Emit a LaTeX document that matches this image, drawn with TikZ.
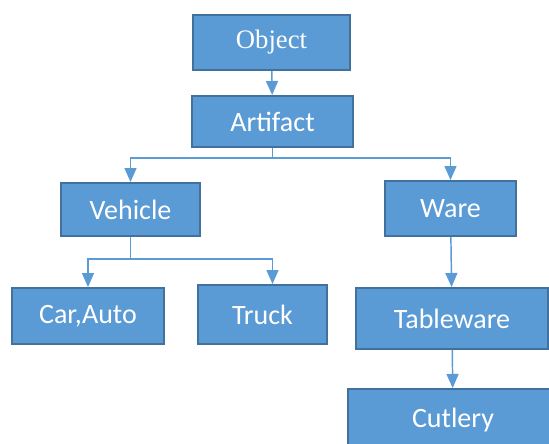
\documentclass[tikz,border=0pt]{standalone}
\usepackage{fontspec}
\setmainfont{Carlito}
\newfontfamily\objfont{Liberation Serif}
\usetikzlibrary{arrows.meta}
\definecolor{boxfill}{RGB}{91,155,213}
\definecolor{boxline}{RGB}{65,113,156}

\begin{document}
\begin{tikzpicture}[x=0.75pt,y=0.75pt,yscale=-1,xscale=1,
    box/.style={draw=boxline,fill=boxfill,line width=1.5pt,text=white,inner sep=0pt,
      font=\fontsize{21}{24}\selectfont},
    link/.style={draw=boxfill,line width=1.1pt,-{Triangle[length=10.5pt,width=9pt]}}]
    \useasboundingbox (0,0) rectangle (549,443);

    % Boxes
    \node [box,minimum width=117.75pt,minimum height=41.25pt,font=\objfont\fontsize{20}{24}\selectfont] (object) at (271.5,42.5) {Object};
    \node [box,minimum width=120.75pt,minimum height=38.25pt] (artifact) at (272.5,121.5) {Artifact};
    \node [box,minimum width=104.25pt,minimum height=39.75pt] (vehicle) at (130.5,209.5) {Vehicle};
    \node [box,minimum width=98.25pt,minimum height=41.25pt] (ware) at (450.5,208.5) {Ware};
    \node [box,minimum width=114pt,minimum height=42pt] (carauto) at (88,316) {Car,Auto};
    \node [box,minimum width=96.75pt,minimum height=44.25pt] (truck) at (262.5,314.5) {Truck};
    \node [box,minimum width=144pt,minimum height=45.75pt] (tableware) at (452,318.5) {Tableware};
    \node [box,minimum width=157.5pt,minimum height=46.5pt] (cutlery) at (453,420) {Cutlery};

    % Connectors
    \draw [link] (object) -- (artifact);
    \draw [link] (artifact.south) -- ++(0,10) -| (vehicle.north);
    \draw [link] (artifact.south) -- ++(0,10) -| (ware.north);
    \draw [link] (vehicle.south) -- ++(0,22) -| (carauto.north);
    \draw [link] (vehicle.south) -- ++(0,22) -| ([xshift=7.5pt]truck.north);
    \draw [link] (ware) -- (tableware);
    \draw [link] (tableware) -- (cutlery);

\end{tikzpicture}
\end{document}
